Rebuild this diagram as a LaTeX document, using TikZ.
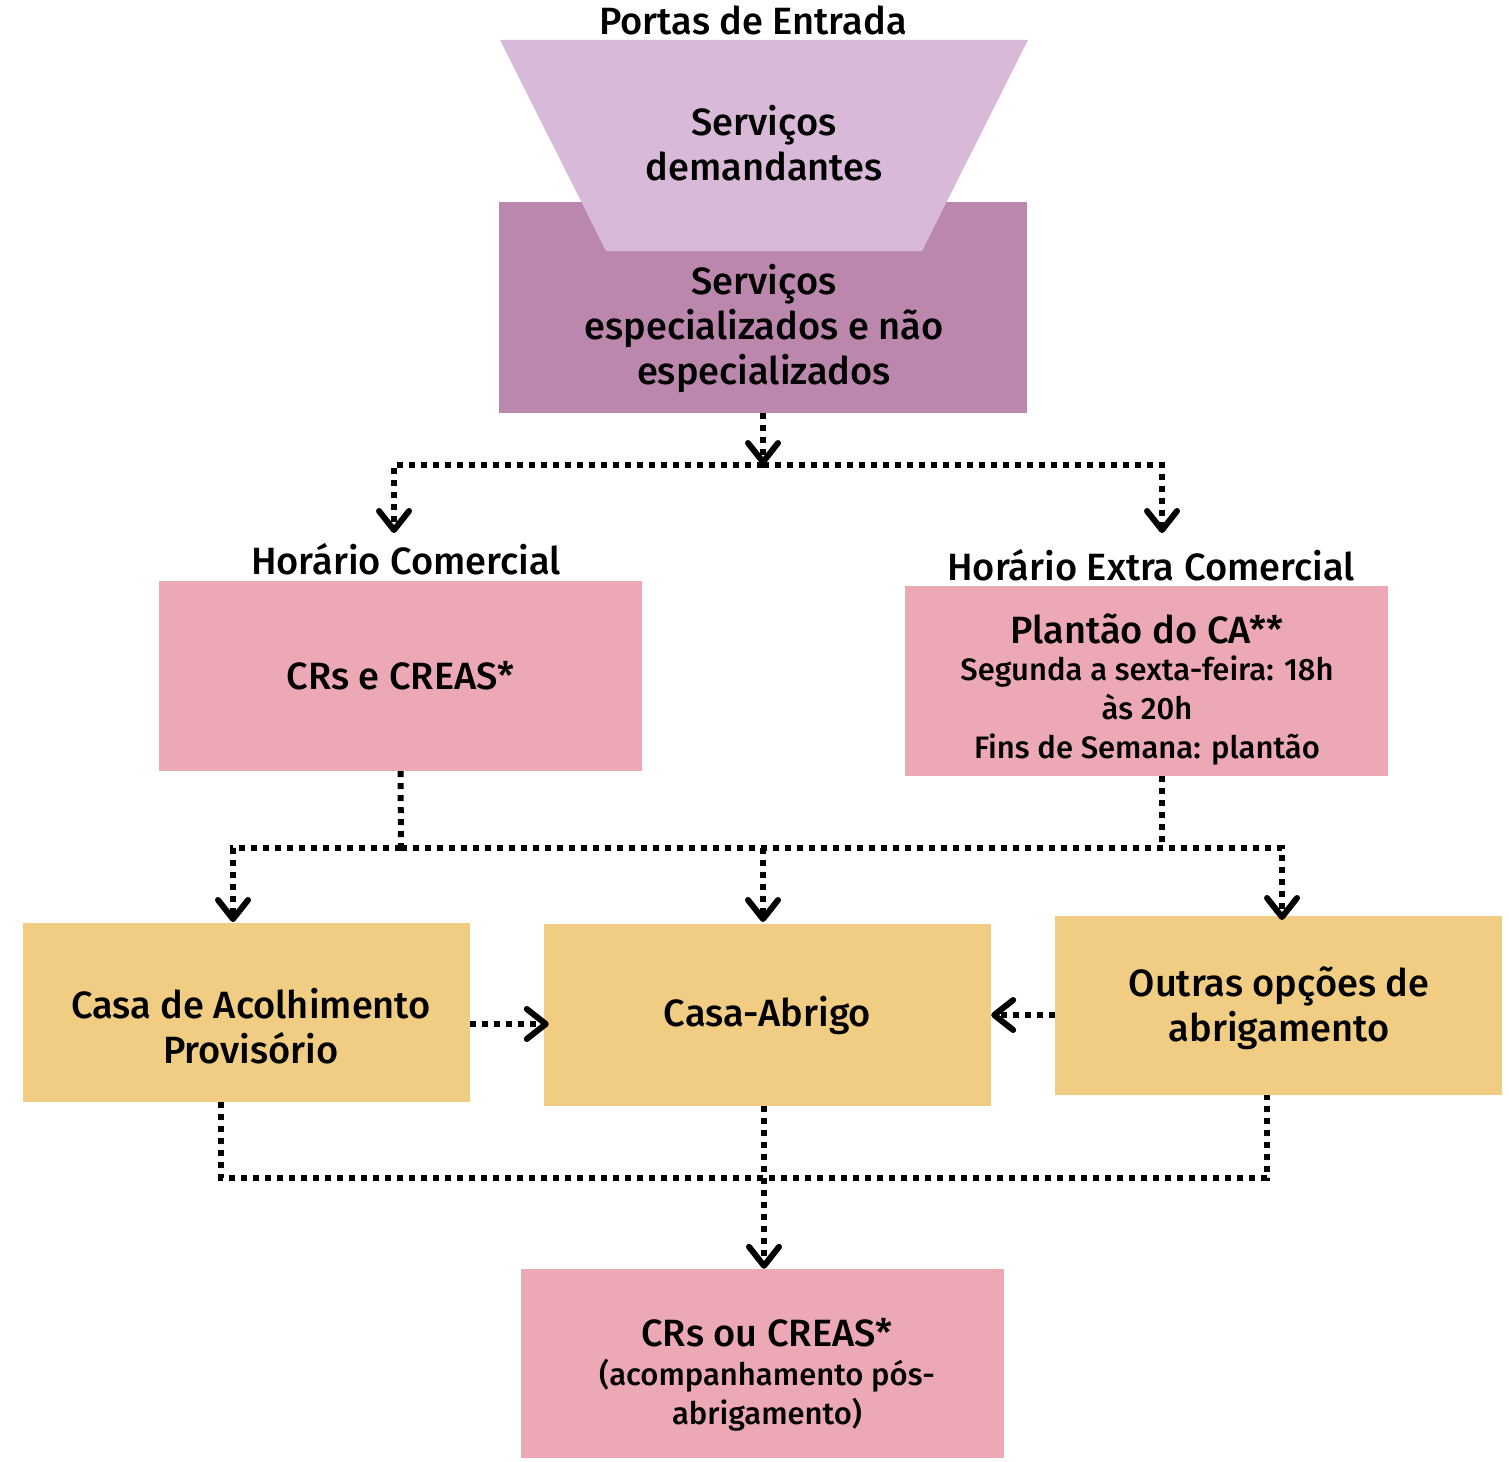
\documentclass[tikz,border=0pt]{standalone}
\usepackage{fontspec}
\setmainfont{Fira Sans}[UprightFont=* Medium]
\usetikzlibrary{arrows.meta}
\definecolor{lilac}{HTML}{D8B9D8}
\definecolor{plum}{HTML}{BC87AD}
\definecolor{rosa}{HTML}{EDA8B6}
\definecolor{sand}{HTML}{F0CD82}
\begin{document}
\begin{tikzpicture}[x=1pt,y=-1pt,
  big/.style={font=\fontsize{38}{45}\selectfont, align=center, inner sep=0pt},
  small/.style={font=\fontsize{31}{39}\selectfont, align=center, inner sep=0pt},
  panel/.style={draw=none, inner sep=0pt, minimum width=#1},
  dotline/.style={line width=6pt, dash pattern=on 6pt off 6pt},
  dotarrow/.style={dotline, -{Straight Barb[length=19pt,width=30pt,line width=6pt,line cap=round,line join=round]}}]
\useasboundingbox (0,0) rectangle (1509,1461);

% entry funnel
\node[panel=528, minimum height=211, fill=plum] (esp) at (763,307) {};
\fill[lilac] (500,40) -- (1028,40) -- (922,251) -- (606,251) -- cycle;
\node[big] (title) at (753,20) {Portas de Entrada};
\node[big] (dem) at (764,143) {Serviços\\demandantes};
\node[big] (esptxt) at (764,328) {Serviços\\especializados e não\\especializados};

% schedules
\node[big] (hc) at (406,559) {Horário Comercial};
\node[big] (hec) at (1151,565) {Horário Extra Comercial};
\node[panel=483, minimum height=190, fill=rosa, big] (crs) at (400.5,676) {CRs e CREAS*};
\node[panel=483, minimum height=190, fill=rosa] (plantao) at (1146.5,681) {};
\node[big] (plt) at (1147,629) {Plantão do CA**};
\node[small, anchor=north] (pltsub) at (1147,656) {Segunda a sexta-feira: 18h\\às 20h\\Fins de Semana: plantão};

% shelters
\node[panel=447, minimum height=179, fill=sand] (casa) at (246.5,1012.5) {};
\node[big] (casatxt) at (251,1026) {Casa de Acolhimento\\Provisório};
\node[panel=447, minimum height=182, fill=sand, big] (abrigo) at (767.5,1015) {Casa-Abrigo};
\node[panel=447, minimum height=179, fill=sand] (outras) at (1278.5,1005.5) {};
\node[big] (outtxt) at (1279,1008) {Outras opções de\\abrigamento};

% follow-up
\node[panel=483, minimum height=189, fill=rosa] (final) at (762.5,1363.5) {};
\node[big] (fintxt) at (767,1333) {CRs ou CREAS*};
\node[small, anchor=north] (finsub) at (767,1359) {(acompanhamento pós-\\abrigamento)};

% connector points
\coordinate (s1) at (763,465);
\coordinate (hcin) at (394,533);
\coordinate (hecin) at (1162,533);
\coordinate (s2) at (401,848);
\coordinate (s3) at (1162,848);
\coordinate (casain) at (233,922);
\coordinate (abin) at (763,922);
\coordinate (outin) at (1282,920);
\coordinate (cy) at (0,1024);
\coordinate (oy) at (0,1015);
\coordinate (bl) at (221,1178);
\coordinate (br) at (1267,1178);
\coordinate (bm) at (764,1178);

% connectors
\draw[dotarrow] (esp.south) -- (s1);
\draw[dotarrow] (s1) -| (hcin);
\draw[dotarrow] (s1) -| (hecin);
\draw[dotline] (crs.south) -- (s2);
\draw[dotline] (plantao.south -| s3) -- (s3);
\draw[dotarrow] (s2) -| (casain);
\draw[dotarrow] (s2) -| (outin);
\draw[dotarrow] (s2 -| abin) -- (abin);
\draw[dotarrow, shorten >=-5pt] (casa.east |- cy) -- (abrigo.west |- cy);
\draw[dotarrow] (outras.west |- oy) -- (abrigo.east |- oy);
\draw[dotline] (casa.south -| bl) -- (bl) -- (br) -- (outras.south -| br);
\draw[dotarrow] (abrigo.south -| bm) -- (final.north -| bm);
\end{tikzpicture}
\end{document}
